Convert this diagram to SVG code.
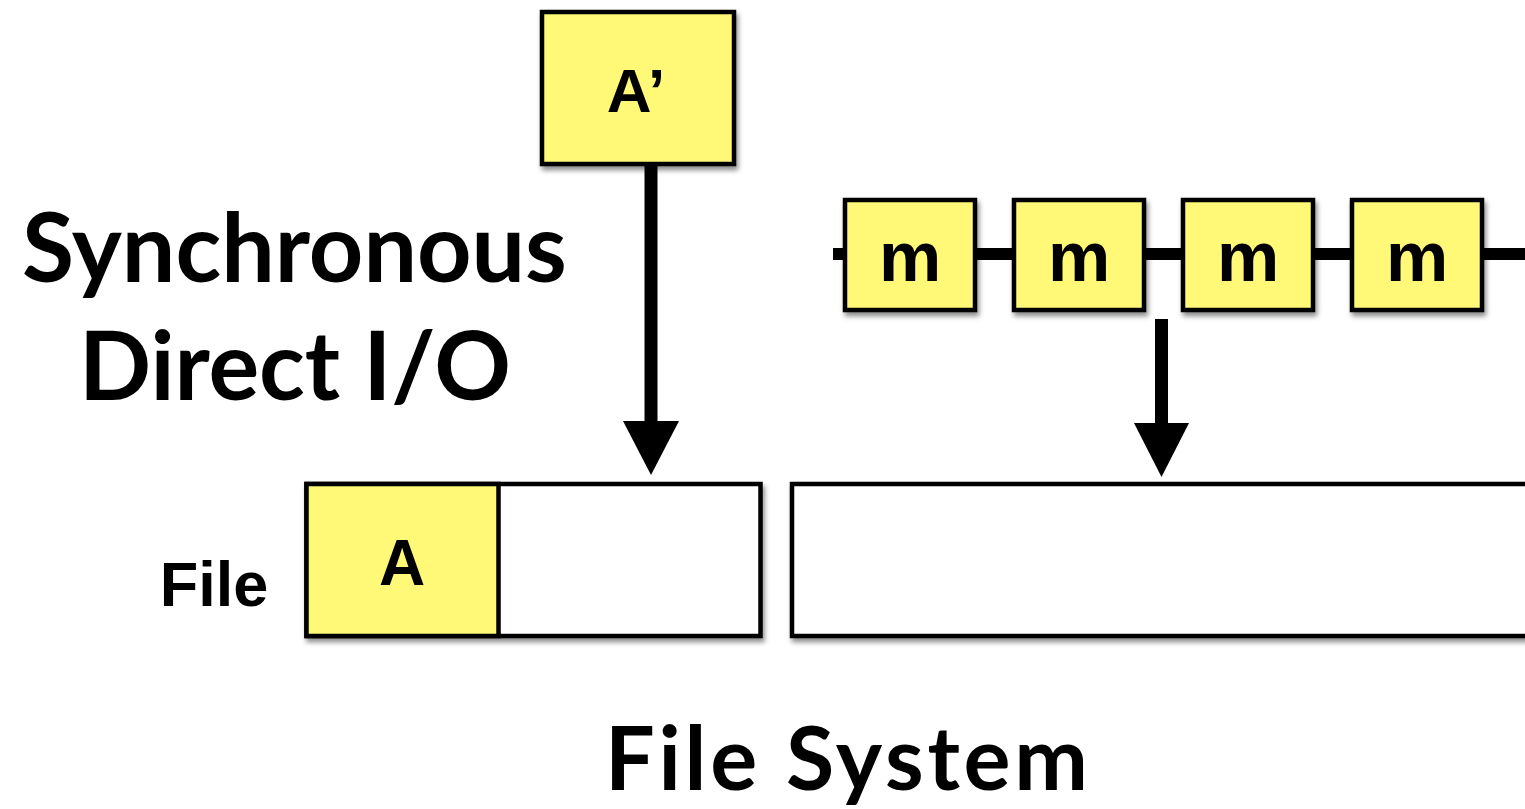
<svg xmlns="http://www.w3.org/2000/svg" width="1525" height="809" viewBox="0 0 1525 809">
  <defs>
    <filter id="shadow" x="-10%" y="-10%" width="130%" height="130%">
      <feDropShadow dx="2" dy="4" stdDeviation="2.5" flood-color="#000" flood-opacity="0.45"/>
    </filter>
  </defs>
  <style>
    .box { stroke: #000; stroke-width: 4.5; }
    .yellow { fill: #fff977; }
    .white { fill: #fff; }
    .lbl { font-family: "Liberation Sans", Arial, sans-serif; font-weight: bold; fill: #000; text-anchor: middle; }
    .title { font-family: Lato, "Liberation Sans", sans-serif; font-weight: bold; fill: #000; }
    .wire { stroke: #000; stroke-width: 12; fill: none; }
    .stem { stroke: #000; stroke-width: 13; fill: none; }
    .head { fill: #000; }
  </style>

  <rect width="1525" height="809" fill="#fff"/>

  <!-- headings -->
  <text class="title" x="22" y="282" font-size="95">Synchronous</text>
  <text class="title" x="79" y="400" font-size="95" textLength="432" lengthAdjust="spacing">Direct I/O</text>
  <text class="title" x="605" y="790" font-size="88" textLength="483" lengthAdjust="spacing">File System</text>

  <!-- connectors -->
  <g id="connectors">
    <line class="wire" x1="833" y1="254" x2="1525" y2="254"/>
    <line class="stem" x1="651" y1="160" x2="651" y2="424"/>
    <polygon class="head" points="623,421 679,421 651,475"/>
    <line class="stem" x1="1161.5" y1="319" x2="1161.5" y2="426"/>
    <polygon class="head" points="1134,423 1189,423 1161.5,477"/>
  </g>

  <!-- incoming write block -->
  <g id="node-a-prime">
    <rect class="box yellow" x="542" y="12" width="192" height="152" filter="url(#shadow)"/>
    <text class="lbl" x="636" y="112" font-size="62">A’</text>
  </g>

  <!-- queued m blocks -->
  <g id="node-m1">
    <rect class="box yellow" x="845" y="200" width="130" height="110" filter="url(#shadow)"/>
    <text class="lbl" x="910" y="281" font-size="70">m</text>
  </g>
  <g id="node-m2">
    <rect class="box yellow" x="1014" y="200" width="130" height="110" filter="url(#shadow)"/>
    <text class="lbl" x="1079" y="281" font-size="70">m</text>
  </g>
  <g id="node-m3">
    <rect class="box yellow" x="1183" y="200" width="130" height="110" filter="url(#shadow)"/>
    <text class="lbl" x="1248" y="281" font-size="70">m</text>
  </g>
  <g id="node-m4">
    <rect class="box yellow" x="1352" y="200" width="130" height="110" filter="url(#shadow)"/>
    <text class="lbl" x="1417" y="281" font-size="70">m</text>
  </g>

  <!-- file -->
  <g id="file-label">
    <text class="lbl" x="214" y="606" font-size="63">File</text>
  </g>
  <g id="node-file-left">
    <rect class="box white" x="306.5" y="484" width="454" height="152" filter="url(#shadow)"/>
    <rect class="box yellow" x="306.5" y="484" width="192" height="152"/>
    <text class="lbl" x="402" y="585" font-size="64">A</text>
  </g>
  <g id="node-file-right">
    <rect class="box white" x="792" y="484" width="760" height="152" filter="url(#shadow)"/>
  </g>
</svg>
